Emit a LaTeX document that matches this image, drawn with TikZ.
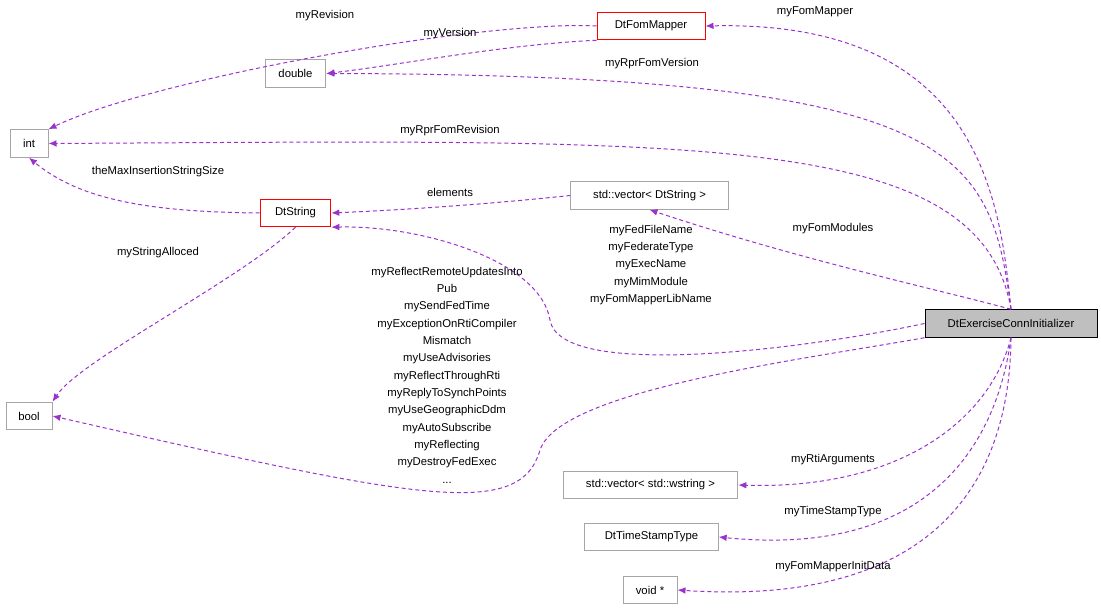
\documentclass[tikz,border=0pt]{standalone}
\usepackage{fontspec}
\setmainfont{Liberation Sans}
\usetikzlibrary{arrows.meta}
\definecolor{edgepurple}{HTML}{9A32CD}
\begin{document}
\tikzset{every picture/.style={line width=0.75pt}}
\begin{tikzpicture}[x=0.75pt,y=0.75pt,yscale=-1,xscale=1,
  font=\fontsize{8.5}{13}\selectfont,
  cls/.style={draw=gray!70,inner sep=0pt,minimum height=20.6pt,anchor=center},
  redcls/.style={cls,draw=red},
  rel/.style={draw=edgepurple,dash pattern={on 3pt off 2.2pt},-{Latex[length=6pt,width=5pt]}},
  lbl/.style={inner sep=0.75pt,align=center}]
\useasboundingbox (0,0) rectangle (1101,616);

% Class boxes
\node [redcls,minimum width=81pt] (fommapper) at (651,26) {DtFomMapper};
\node [cls,minimum width=45.5pt] (double) at (295.5,73.5) {double};
\node [cls,minimum width=28.5pt] (int) at (29,143.5) {int};
\node [redcls,minimum width=53pt] (dtstring) at (295.5,213) {DtString};
\node [cls,minimum width=118pt] (vecstring) at (649.5,195.5) {std::vector< DtString >};
\node [cls,minimum width=34.5pt] (bool) at (29,416) {bool};
\node [draw=black,fill=black!25,inner sep=0pt,minimum height=20.6pt,minimum width=129pt] (conn) at (1011,323.5) {DtExerciseConnInitializer};
\node [cls,minimum width=131pt] (vecwstring) at (650.5,485) {std::vector< std::wstring >};
\node [cls,minimum width=100pt] (timestamp) at (651.5,537) {DtTimeStampType};
\node [cls,minimum width=40.5pt] (voidptr) at (650,590) {void *};

% Connectors
\draw [rel] (fommapper.west) .. controls (480,20) and (150,80) .. (int.north east);
\draw [rel] (fommapper.south west) .. controls (500,45) and (400,65) .. (double.east);
\draw [rel] (conn.north) .. controls (1000,200) and (980,20) .. (fommapper.east);
\draw [rel] (conn.north) .. controls (990,150) and (960,75) .. (double.east);
\draw [rel] (conn.north) .. controls (980,130) and (700,140) .. (int.east);
\draw [rel] (dtstring.west) .. controls (150,212) and (80,200) .. (int.south);
\draw [rel] (vecstring.west) .. controls (480,205) and (400,210) .. (dtstring.east);
\draw [rel] (conn.north) .. controls (940,290) and (800,260) .. (vecstring.south);
\draw [rel] (conn.west) .. controls (800,350) and (560,380) .. (550,320) .. controls (540,260) and (420,225) .. (dtstring.south east);
\draw [rel] (dtstring.south) .. controls (240,280) and (80,360) .. (bool.north east);
\draw [rel] (conn.south west) .. controls (800,360) and (560,390) .. (540,450) .. controls (520,520) and (420,500) .. (bool.east);
\draw [rel] (conn.south) .. controls (990,420) and (900,490) .. (vecwstring.east);
\draw [rel] (conn.south) .. controls (1000,420) and (950,560) .. (timestamp.east);
\draw [rel] (conn.south) .. controls (1010,430) and (980,610) .. (voidptr.east);

% Labels
\node [lbl] (l1) at (325,16) {myRevision};
\node [lbl] (l2) at (450,34) {myVersion};
\node [lbl] (l3) at (815,12) {myFomMapper};
\node [lbl] (l4) at (652,64) {myRprFomVersion};
\node [lbl] (l5) at (450,131) {myRprFomRevision};
\node [lbl] (l6) at (158,172) {theMaxInsertionStringSize};
\node [lbl] (l7) at (450,192) {elements};
\node [lbl] (l8) at (833,229) {myFomModules};
\node [lbl] (l9) at (651,265) {myFedFileName\\myFederateType\\myExecName\\myMimModule\\myFomMapperLibName};
\node [lbl] (l10) at (158,253) {myStringAlloced};
\node [lbl] (l11) at (447,375) {myReflectRemoteUpdatesInto\\Pub\\mySendFedTime\\myExceptionOnRtiCompiler\\Mismatch\\myUseAdvisories\\myReflectThroughRti\\myReplyToSynchPoints\\myUseGeographicDdm\\myAutoSubscribe\\myReflecting\\myDestroyFedExec\\...};
\node [lbl] (l12) at (833,460) {myRtiArguments};
\node [lbl] (l13) at (833,512) {myTimeStampType};
\node [lbl] (l14) at (833,567) {myFomMapperInitData};
\end{tikzpicture}
\end{document}
